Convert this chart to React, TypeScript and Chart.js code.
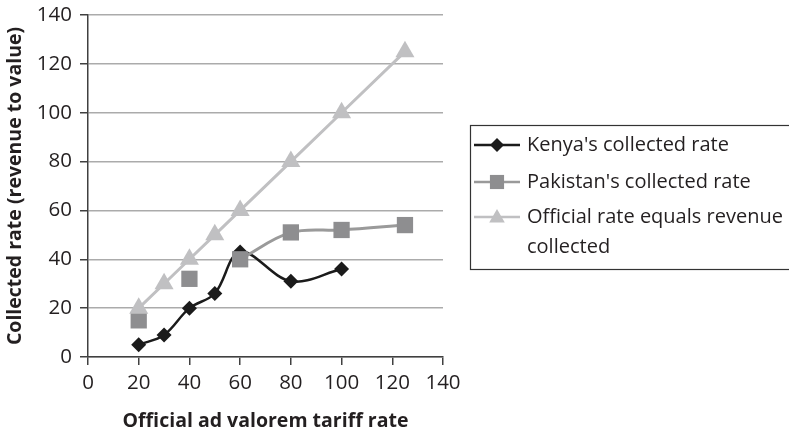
import React, { useEffect, useRef } from "react";
import { Chart, registerables } from "chart.js";

Chart.register(...registerables);

const kenyaX = [20, 30, 40, 50, 60, 80, 100];
const kenyaY = [5, 9, 20, 26, 43, 31, 36];
const pakistanX = [20, 30, 40, 50, 60, 80, 100, 125];
const pakistanY: (number | null)[] = [15, null, 32, null, 40, 51, 52, 54];
const officialX = [20, 30, 40, 50, 60, 80, 100, 125];
const officialY = [20, 30, 40, 50, 60, 80, 100, 125];
const seriesNames = ["Kenya's collected rate", "Pakistan's collected rate", "Official rate equals revenue collected"];
const legendLines = [["Kenya's collected rate"], ["Pakistan's collected rate"], ["Official rate equals revenue", "collected"]];
const xTitle = "Official ad valorem tariff rate";
const yTitle = "Collected rate (revenue to value)";

const FONT = "'Open Sans', 'DejaVu Sans', sans-serif";

const KENYA = "#1b1b1b";
const PAK_LINE = "#9a9a9a";
const PAK_PT = "#8e8e90";
const OFF = "#c0c0c2";
const TEXT = "#231f20";

function drawMarker(ctx: CanvasRenderingContext2D, style: string, x: number, y: number, r: number, color: string) {
  ctx.fillStyle = color;
  ctx.beginPath();
  if (style === "rectRot") {
    ctx.moveTo(x, y - r);
    ctx.lineTo(x + r, y);
    ctx.lineTo(x, y + r);
    ctx.lineTo(x - r, y);
  } else if (style === "rect") {
    const s = r * Math.SQRT1_2;
    ctx.rect(x - s, y - s, 2 * s, 2 * s);
  } else {
    ctx.moveTo(x, y - r);
    ctx.lineTo(x + r * Math.sin((2 * Math.PI) / 3), y - r * Math.cos((2 * Math.PI) / 3));
    ctx.lineTo(x + r * Math.sin((4 * Math.PI) / 3), y - r * Math.cos((4 * Math.PI) / 3));
  }
  ctx.closePath();
  ctx.fill();
}

const legendPlugin = {
  id: "boxLegend",
  afterDraw(chart: any) {
    const ctx: CanvasRenderingContext2D = chart.ctx;
    ctx.save();
    ctx.strokeStyle = "#333";
    ctx.lineWidth = 1.2;
    ctx.strokeRect(470.5, 125.5, 340, 144);
    const rowsY = [[145], [182], [217, 247]];
    const styles = [
      { line: KENYA, pt: KENYA, shape: "rectRot", r: 7 },
      { line: PAK_LINE, pt: PAK_PT, shape: "rect", r: 10 },
      { line: OFF, pt: OFF, shape: "triangle", r: 9 },
    ];
    ctx.font = `20px ${FONT}`;
    ctx.textBaseline = "middle";
    ctx.textAlign = "left";
    legendLines.forEach((lines, i) => {
      const y0 = rowsY[i][0];
      const st = styles[i];
      ctx.strokeStyle = st.line;
      ctx.lineWidth = 2.5;
      ctx.beginPath();
      ctx.moveTo(474, y0);
      ctx.lineTo(520, y0);
      ctx.stroke();
      drawMarker(ctx, st.shape, 497, st.shape === "triangle" ? y0 + 1 : y0, st.r, st.pt);
      ctx.fillStyle = TEXT;
      lines.forEach((t, j) => ctx.fillText(t, 527, rowsY[i][j]));
    });
    ctx.restore();
  },
};

export default function App() {
  const ref = useRef<HTMLCanvasElement>(null);
  useEffect(() => {
    if (!ref.current) return;
    const mk = (xs: number[], ys: (number | null)[]) => xs.map((x, i) => ({ x, y: ys[i] }));
    const chart = new Chart(ref.current, {
      type: "line",
      data: {
        datasets: [
          {
            label: seriesNames[2],
            data: mk(officialX, officialY),
            borderColor: OFF,
            backgroundColor: OFF,
            borderWidth: 3,
            pointStyle: "triangle",
            pointRadius: 11,
            pointBorderWidth: 0,
            tension: 0,
          },
          {
            label: seriesNames[1],
            data: mk(pakistanX, pakistanY),
            borderColor: PAK_LINE,
            backgroundColor: PAK_PT,
            borderWidth: 3,
            pointStyle: "rect",
            pointRadius: 11.5,
            pointBorderWidth: 0,
            tension: 0.35,
            spanGaps: false,
          },
          {
            label: seriesNames[0],
            data: mk(kenyaX, kenyaY),
            borderColor: KENYA,
            backgroundColor: KENYA,
            borderWidth: 2.5,
            pointStyle: "rectRot",
            pointRadius: 7.5,
            pointBorderWidth: 0,
            tension: 0.35,
          },
        ],
      },
      options: {
        animation: false,
        responsive: false,
        layout: { padding: { top: 15, right: 346, left: 0, bottom: 0 } },
        plugins: { legend: { display: false }, tooltip: { enabled: false } },
        scales: {
          x: {
            type: "linear",
            min: 0,
            max: 140,
            ticks: { stepSize: 20, color: TEXT, font: { family: FONT, size: 20.5 }, padding: 6 },
            grid: { drawOnChartArea: false, drawTicks: true, tickLength: 8, color: "#404040", lineWidth: 1.5 },
            border: { color: "#404040", width: 1.5 },
            title: { display: true, text: xTitle, color: TEXT, font: { family: FONT, size: 19.5, weight: "bold" }, padding: { top: 4, bottom: -3 } },
            afterFit: (s: any) => { s.height = 73; s.paddingLeft = 0; s.paddingRight = 0; },
          },
          y: {
            min: 0,
            max: 140,
            ticks: { stepSize: 20, color: TEXT, font: { family: FONT, size: 20.5 }, padding: 8 },
            grid: { color: "#ababab", lineWidth: 1.5, drawTicks: true, tickLength: 8, tickColor: "#404040" },
            border: { color: "#404040", width: 1.5 },
            title: { display: true, text: yTitle, color: TEXT, font: { family: FONT, size: 19.5, weight: "bold" }, padding: { top: 4, bottom: 0 } },
            afterFit: (s: any) => { s.width = 88; s.paddingTop = 0; s.paddingBottom = 0; },
          },
        },
      },
      plugins: [legendPlugin],
    } as any);
    return () => chart.destroy();
  }, []);
  return (
    <div style={{ position: "absolute", left: 0, top: 0, width: 789, height: 430, background: "#fff" }}>
      <canvas ref={ref} width={789} height={430} style={{ width: 789, height: 430 }} />
    </div>
  );
}
